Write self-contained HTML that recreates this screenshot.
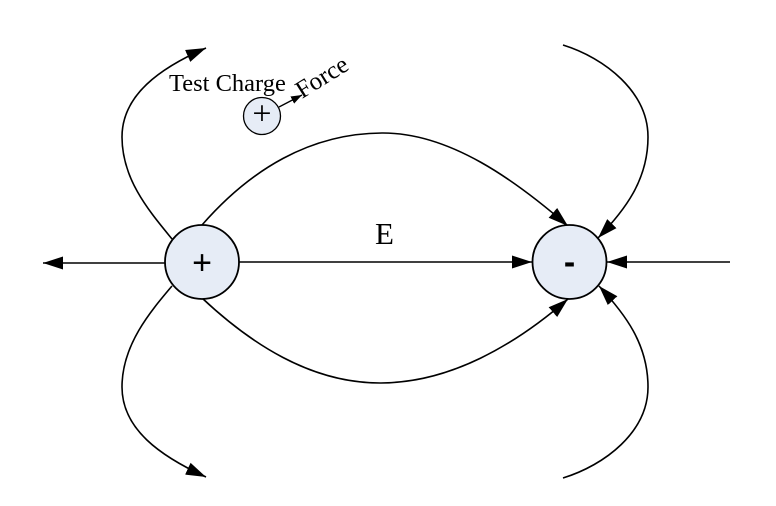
<!DOCTYPE html>
<html>
<head>
<meta charset="utf-8">
<style>
  html, body { margin: 0; padding: 0; background: #ffffff; }
  body { width: 776px; height: 506px; overflow: hidden; }
  svg { display: block; }
</style>
</head>
<body>
<svg width="776" height="506" viewBox="0 0 776 506" xmlns="http://www.w3.org/2000/svg">
  <defs>
    <marker id="ah" markerUnits="userSpaceOnUse" markerWidth="22" markerHeight="14" refX="20" refY="7" orient="auto">
      <path d="M0,0.5 L20,7 L0,13.5 Z" fill="#000"/>
    </marker>
    <marker id="ahs" markerUnits="userSpaceOnUse" markerWidth="12" markerHeight="10" refX="11" refY="5" orient="auto">
      <path d="M0,1 L11,5 L0,9 Z" fill="#000"/>
    </marker>
  </defs>

  <g fill="none" stroke="#000" stroke-width="1.6">
    <!-- straight lines -->
    <line x1="165" y1="263" x2="43" y2="263" marker-end="url(#ah)"/>
    <line x1="239" y1="262" x2="532" y2="262" marker-end="url(#ah)"/>
    <line x1="730" y1="262" x2="607" y2="262" marker-end="url(#ah)"/>

    <!-- top arc -->
    <path d="M202,225 C250,170 310,133 383,133 C450,133 515,180 568,226" marker-end="url(#ah)"/>
    <!-- bottom arc -->
    <path d="M202,298 C250,343 310,383 380,383 C450,383 515,345 568,299" marker-end="url(#ah)"/>

    <!-- top-left loop -->
    <path d="M172,239 C150,212 122,180 122,137 C122,95 160,68 206,48" marker-end="url(#ah)"/>
    <!-- bottom-left loop -->
    <path d="M172,286 C150,312 122,345 122,387 C122,429 160,456 206,477" marker-end="url(#ah)"/>

    <!-- top-right loop -->
    <path d="M563,45 C605,58 648,92 648,137 C648,180 625,210 598,238" marker-end="url(#ah)"/>
    <!-- bottom-right loop -->
    <path d="M563,478 C605,465 648,432 648,387 C648,344 625,314 599,286" marker-end="url(#ah)"/>

    <!-- force arrow -->
    <line x1="279" y1="107" x2="302" y2="95" stroke-width="1.3" marker-end="url(#ahs)"/>
  </g>

  <!-- charges -->
  <circle cx="202" cy="262" r="37" fill="#e6ecf6" stroke="#000" stroke-width="1.8"/>
  <circle cx="569.5" cy="262" r="37" fill="#e6ecf6" stroke="#000" stroke-width="1.8"/>
  <circle cx="262" cy="116" r="18.5" fill="#e6ecf6" stroke="#000" stroke-width="1.3"/>

  <text x="202" y="274" text-anchor="middle" font-family="Liberation Sans, sans-serif" font-size="34" fill="#000">+</text>
  <text x="569.5" y="273.5" text-anchor="middle" font-family="Liberation Sans, sans-serif" font-weight="bold" font-size="34" fill="#000">-</text>
  <text x="262" y="124.5" text-anchor="middle" font-family="Liberation Serif, serif" font-size="34" fill="#000">+</text>

  <!-- labels -->
  <text x="169" y="91" font-family="Liberation Serif, serif" font-size="24.5" fill="#000">Test Charge</text>
  <text x="375" y="244" font-family="Liberation Serif, serif" font-size="31" fill="#000">E</text>
  <text x="302" y="99" transform="rotate(-32 302 99)" font-family="Liberation Serif, serif" font-size="25" fill="#000">Force</text>
</svg>
</body>
</html>
